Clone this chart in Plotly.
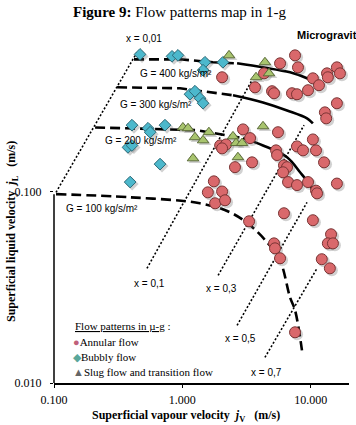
import plotly.graph_objects as go

# ---------------- data ----------------
annular_jv = [7.55, 5.77, 7.96, 16.0, 16.9, 13.4, 13.6, 2.04, 4.33, 10.4, 11.6, 9.53, 5.00, 5.18, 7.15,
              7.82, 3.68, 16.0, 12.9, 13.2, 2.97, 3.37, 5.56, 7.82, 8.71, 10.4, 11.0, 12.7, 5.37, 5.47,
              1.97, 2.19, 2.04, 2.57, 3.49, 6.19, 6.54, 6.09, 6.66, 7.82, 9.53, 11.0, 11.2, 16.0, 1.76,
              1.58, 2.04, 1.80, 2.15, 6.19, 10.4, 3.31, 5.18, 5.27, 14.4, 13.6, 14.9, 5.77, 12.2, 14.1, 7.55]
annular_jl = [0.514, 0.467, 0.445, 0.445, 0.414, 0.414, 0.395, 0.395, 0.414, 0.390, 0.359, 0.338, 0.334, 0.326, 0.326,
              0.322, 0.350, 0.289, 0.259, 0.241, 0.211, 0.190, 0.204, 0.172, 0.164, 0.187, 0.164, 0.142, 0.164, 0.155,
              0.174, 0.176, 0.168, 0.134, 0.142, 0.137, 0.134, 0.126, 0.112, 0.108, 0.112, 0.101, 0.0978, 0.110, 0.113,
              0.0990, 0.100, 0.0868, 0.0900, 0.0770, 0.0708, 0.0699, 0.0536, 0.0505, 0.0598, 0.0536, 0.0536, 0.0448, 0.0443, 0.0397, 0.0184]

bubbly_jv = [0.468, 0.831, 0.925, 1.50, 2.07, 1.45, 1.147, 1.254, 1.372, 1.45, 0.405, 0.540, 0.561, 0.732,
             0.377, 0.405, 0.670, 0.392]
bubbly_jl = [0.520, 0.508, 0.514, 0.473, 0.473, 0.430, 0.322, 0.334, 0.307, 0.289, 0.222, 0.214, 0.204, 0.222,
             0.170, 0.174, 0.139, 0.112]

slug_jv = [2.31, 4.40, 4.73, 3.75, 1.01, 1.107, 1.254, 1.61, 1.45, 2.48, 2.62, 2.92, 4.25, 1.21, 2.71]
slug_jl = [0.514, 0.473, 0.414, 0.395, 0.216, 0.214, 0.192, 0.204, 0.185, 0.194, 0.179, 0.179, 0.219, 0.149, 0.151]

# constant mass-flux curves (dashed part, then solid part)
g400_dash_jv = [0.420, 0.959, 1.73, 2.67]
g400_dash_jl = [0.490, 0.490, 0.473, 0.467]
g400_solid_jv = [2.67, 4.25, 6.90, 9.36, 11.2]
g400_solid_jl = [0.467, 0.445, 0.419, 0.390, 0.367]

g300_dash_jv = [0.310, 0.959, 2.48]
g300_dash_jl = [0.350, 0.346, 0.318]
g300_solid_jv = [2.48, 4.25, 6.54, 9.36, 10.4]
g300_solid_jl = [0.318, 0.292, 0.265, 0.241, 0.227]

g200_dash_jv = [0.209, 1.30, 2.97]
g200_dash_jl = [0.216, 0.209, 0.190]
g200_solid_jv = [2.97, 4.25, 6.54, 8.26, 9.87, 10.8]
g200_solid_jl = [0.190, 0.174, 0.151, 0.126, 0.108, 0.0955]

g100_jv = [0.1037, 0.391, 1.37, 2.35, 3.37, 4.65, 5.77, 6.90, 7.55, 8.55]
g100_jl = [0.0969, 0.0933, 0.0868, 0.0779, 0.0666, 0.0536, 0.0437, 0.0280, 0.0240, 0.0148]

# constant vapour-quality lines (dotted)
quality_labels = ["x = 0,01", "x = 0,1", "x = 0,3", "x = 0,5", "x = 0,7"]
quality_jv = [[0.1037, 0.443], [0.530, 3.49], [1.90, 8.87], [2.67, 9.36], [4.40, 11.2]]
quality_jl = [[0.0990, 0.533], [0.0397, 0.381], [0.0365, 0.222], [0.0200, 0.0878], [0.0136, 0.0397]]

g_labels = ["G = 400 kg/s/m²", "G = 300 kg/s/m²", "G = 200 kg/s/m²", "G = 100 kg/s/m²"]

x_tickvals = [0.1, 1, 10]
x_ticktext = ["0.100", "1.000", "10.000"]
y_tickvals = [0.01, 0.1]
y_ticktext = ["0.010", "0.100"]

# ---------------- styling ----------------
W, H = 356, 425
ML, MR, MT, MB = 54, 7, 0, 42
PW, PH = W - ML - MR, H - MT - MB
XDEC, YDEC = 128.35, 191.5   # pixels per decade

def pxx(x):
    return (x - ML) / PW

def pxy(y):
    return (MT + PH - y) / PH

SERIF = "Liberation Serif, Times New Roman, serif"
SANS = "Liberation Sans, Arial, sans-serif"

# soft drop shadow: about 2 px right / 2 px down
SHX = 10 ** (2 / XDEC)
SHY = 10 ** (-2 / YDEC)

fig = go.Figure()

for xs, ys in zip(quality_jv, quality_jl):
    fig.add_trace(go.Scatter(x=xs, y=ys, mode="lines",
                             line=dict(color="black", width=1.6, dash="2px,2px"), hoverinfo="skip"))

for xs, ys in [(g400_dash_jv, g400_dash_jl), (g300_dash_jv, g300_dash_jl), (g200_dash_jv, g200_dash_jl)]:
    fig.add_trace(go.Scatter(x=xs, y=ys, mode="lines",
                             line=dict(color="black", width=2.6, dash="10px,5px"), hoverinfo="skip"))
for xs, ys in [(g400_solid_jv, g400_solid_jl), (g300_solid_jv, g300_solid_jl), (g200_solid_jv, g200_solid_jl)]:
    fig.add_trace(go.Scatter(x=xs, y=ys, mode="lines",
                             line=dict(color="black", width=2.6, shape="spline"), hoverinfo="skip"))
fig.add_trace(go.Scatter(x=g100_jv, y=g100_jl, mode="lines",
                         line=dict(color="black", width=2.6, dash="10px,5px", shape="spline"), hoverinfo="skip"))

series = [
    (annular_jv, annular_jl, "circle", 11, "#d9686b", "#7a3434", "Annular flow"),
    (bubbly_jv, bubbly_jl, "diamond", 9, "#4cb8cc", "#2d6a78", "Bubbly flow"),
    (slug_jv, slug_jl, "triangle-up", 10, "#a8c46e", "#5a6a38", "Slug flow and transition flow"),
]
for xs, ys, sym, sz, fc, lc, nm in series:
    fig.add_trace(go.Scatter(x=[v * SHX for v in xs], y=[v * SHY for v in ys], mode="markers",
                             marker=dict(symbol=sym, size=sz + 1, color="rgba(90,90,90,0.28)",
                                         line=dict(width=0)), hoverinfo="skip"))
for xs, ys, sym, sz, fc, lc, nm in series:
    fig.add_trace(go.Scatter(x=xs, y=ys, mode="markers", name=nm,
                             marker=dict(symbol=sym, size=sz, color=fc, line=dict(color=lc, width=1))))

ann = []
ann.append(dict(text="<b>Figure 9:</b> Flow patterns map in 1-g", x=pxx(180), y=pxy(12),
                font=dict(family=SERIF, size=15, color="black")))
ann.append(dict(text="<b>Microgravity</b>", x=pxx(295), y=pxy(35), xanchor="left",
                font=dict(family=SANS, size=11, color="black")))
q_pos = [(144, 38), (149, 283), (221, 288), (240, 338), (266, 372)]
for t, (qx, qy) in zip(quality_labels, q_pos):
    ann.append(dict(text=t, x=pxx(qx), y=pxy(qy), font=dict(family=SANS, size=10, color="black")))
g_pos = [(176, 74), (156, 104), (141, 140), (102, 208)]
for t, (gx, gy) in zip(g_labels, g_pos):
    ann.append(dict(text=t, x=pxx(gx), y=pxy(gy), font=dict(family=SANS, size=10, color="black")))

ann.append(dict(text="<u>Flow patterns in µ-g</u> :", x=pxx(73), y=pxy(326), xanchor="left",
                font=dict(family=SERIF, size=11, color="black")))
ann.append(dict(text="<span style='color:#c0607a'>●</span>Annular flow", x=pxx(71), y=pxy(342), xanchor="left",
                font=dict(family=SERIF, size=11, color="black")))
ann.append(dict(text="<span style='color:#5aa79a'>◆</span>Bubbly flow", x=pxx(71), y=pxy(357), xanchor="left",
                font=dict(family=SERIF, size=11, color="black")))
ann.append(dict(text="<span style='color:#666666'>▲</span>Slug flow and transition flow", x=pxx(71), y=pxy(372), xanchor="left",
                font=dict(family=SERIF, size=11, color="black")))

ann.append(dict(text="<b>Superficial vapour velocity  <i>j</i><sub>V</sub>   (m/s)</b>", x=pxx(186), y=pxy(416),
                font=dict(family=SERIF, size=12, color="black")))
ann.append(dict(text="<b>Superficial liquid velocity  <i>j</i><sub>L</sub>   (m/s)</b>", x=pxx(12), y=pxy(232),
                textangle=-90, font=dict(family=SERIF, size=12, color="black")))

for a in ann:
    a.setdefault("xref", "paper")
    a.setdefault("yref", "paper")
    a.setdefault("xanchor", "center")
    a.setdefault("yanchor", "middle")
    a["showarrow"] = False

fig.update_layout(
    width=W, height=H, margin=dict(l=ML, r=MR, t=MT, b=MB),
    paper_bgcolor="white", plot_bgcolor="white", showlegend=False,
    annotations=ann,
    xaxis=dict(type="log", range=[-1, -1 + PW / XDEC], tickvals=x_tickvals, ticktext=x_ticktext,
               showline=True, linecolor="black", linewidth=1.5, ticks="outside", ticklen=3,
               tickcolor="black", showgrid=False, zeroline=False, ticklabelstandoff=2,
               tickfont=dict(family=SERIF, size=12, color="black")),
    yaxis=dict(type="log", range=[-2, -2 + PH / YDEC], tickvals=y_tickvals, ticktext=y_ticktext,
               showline=False, ticks="outside", ticklen=3, tickcolor="black", showgrid=False,
               zeroline=False, ticklabelstandoff=6,
               tickfont=dict(family=SERIF, size=12, color="black")),
    shapes=[dict(type="line", xref="x domain", yref="y domain", x0=0, x1=0, y0=0, y1=0.493,
                 line=dict(color="black", width=1.5))],
)

fig.write_html("out.html")
